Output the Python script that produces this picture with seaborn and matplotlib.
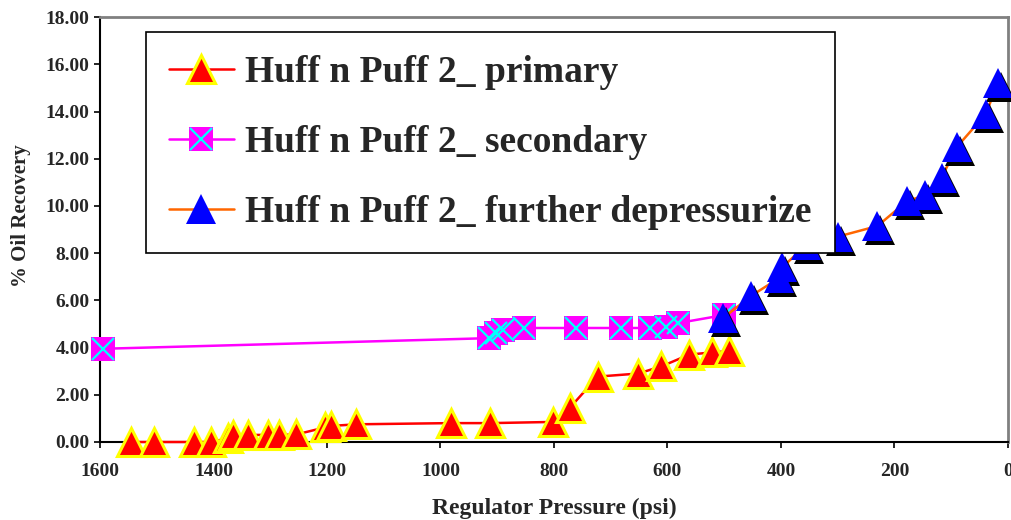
import numpy as np
import pandas as pd
import matplotlib
matplotlib.use('Agg')
import matplotlib.pyplot as plt
import seaborn as sns
from matplotlib.lines import Line2D
from matplotlib.legend_handler import HandlerTuple
from matplotlib.transforms import offset_copy
from matplotlib.ticker import FormatStrFormatter, MultipleLocator

# values
primary_psi = [1545, 1505, 1435, 1405, 1375, 1366, 1339, 1304, 1284, 1254, 1203, 1193,
               1148, 982, 912, 802, 772, 723, 652, 611, 562, 521, 491]
primary_rec = [0.0, 0.0, 0.0, 0.0, 0.15, 0.28, 0.3, 0.3, 0.3, 0.32, 0.62, 0.68,
               0.75, 0.8, 0.8, 0.85, 1.45, 2.77, 2.9, 3.2, 3.7, 3.8, 3.85]

secondary_psi = [1594, 914, 902, 890, 852, 762, 682, 631, 602, 581, 500]
secondary_rec = [3.95, 4.4, 4.6, 4.75, 4.83, 4.83, 4.83, 4.83, 4.87, 5.04, 5.38]

further_psi = [502, 452, 403, 398, 355, 300, 230, 178, 147, 117, 90, 39, 18]
further_rec = [5.25, 6.2, 6.95, 7.4, 8.35, 8.7, 9.15, 10.2, 10.45, 11.2, 12.5, 13.9, 15.2]

labels = ['Huff n Puff 2_ primary', 'Huff n Puff 2_ secondary',
          'Huff n Puff 2_ further depressurize']

df_p = pd.DataFrame({'psi': primary_psi, 'rec': primary_rec})
df_s = pd.DataFrame({'psi': secondary_psi, 'rec': secondary_rec})
df_f = pd.DataFrame({'psi': further_psi, 'rec': further_rec})

sns.set_style('ticks')
plt.rcParams['font.family'] = ['Liberation Serif', 'DejaVu Serif']
plt.rcParams['font.weight'] = 'bold'

fig = plt.figure(figsize=(10.12, 5.2), dpi=100)
ax = fig.add_axes([0.0988, 0.15, 0.8972, 0.817])

tri_size = 20.5
sq_size = 17
blue_size = 21.5

# primary
sns.lineplot(data=df_p, x='psi', y='rec', ax=ax, sort=False, estimator=None,
             color='#FF0000', linewidth=1.8, marker='^', markersize=tri_size,
             markerfacecolor='#FF0000', markeredgecolor='#FFFF00',
             markeredgewidth=2.2, clip_on=False, zorder=3)

# secondary: magenta squares with cyan cross
sns.lineplot(data=df_s, x='psi', y='rec', ax=ax, sort=False, estimator=None,
             color='#FF00FF', linewidth=1.8, marker='s', markersize=sq_size,
             markerfacecolor='#FF00FF', markeredgecolor='#FF00FF',
             markeredgewidth=0, clip_on=False, zorder=4)
ax.plot(secondary_psi, secondary_rec, ls='none', marker='x', markersize=sq_size - 1,
        markeredgecolor='#00FFFF', markeredgewidth=1.6, clip_on=False, zorder=4)

# further depressurize: blue triangles with black shadow
shadow = offset_copy(ax.transData, fig=fig, x=3, y=-4, units='dots')
sns.lineplot(data=df_f, x='psi', y='rec', ax=ax, sort=False, estimator=None,
             color='#FF6600', linewidth=1.8, clip_on=False, zorder=5)
ax.plot(further_psi, further_rec, ls='none', marker='^', markersize=blue_size,
        markerfacecolor='black', markeredgewidth=0, transform=shadow,
        clip_on=False, zorder=5)
ax.plot(further_psi, further_rec, ls='none', marker='^', markersize=blue_size,
        markerfacecolor='#0000FF', markeredgewidth=0, clip_on=False, zorder=6)

ax.set_xlim(1600, 0)
ax.set_ylim(0, 18)
ax.xaxis.set_major_locator(MultipleLocator(200))
ax.yaxis.set_major_locator(MultipleLocator(2))
ax.yaxis.set_major_formatter(FormatStrFormatter('%.2f'))
ax.tick_params(axis='both', labelsize=14, length=4, width=1.2, direction='out',
               color='black')
ax.tick_params(axis='x', pad=11)
for lab in ax.get_xticklabels() + ax.get_yticklabels():
    lab.set_fontweight('bold')

ax.set_xlabel('Regulator Pressure (psi)', fontsize=17, fontweight='bold', labelpad=13)
ax.set_ylabel('% Oil Recovery', fontsize=15, fontweight='bold')
ax.yaxis.set_label_coords(-0.076, 0.534)

for side in ['left', 'bottom']:
    ax.spines[side].set_color('black')
    ax.spines[side].set_linewidth(1.5)
for side in ['top', 'right']:
    ax.spines[side].set_visible(True)
    ax.spines[side].set_color('#808080')
    ax.spines[side].set_linewidth(2)

# legend
h_p = Line2D([], [], color='#FF0000', lw=1.8, marker='^', markersize=tri_size,
             markerfacecolor='#FF0000', markeredgecolor='#FFFF00', markeredgewidth=2.2)
h_s1 = Line2D([], [], color='#FF00FF', lw=1.8, marker='s', markersize=sq_size,
              markerfacecolor='#FF00FF', markeredgewidth=0)
h_s2 = Line2D([], [], ls='none', marker='x', markersize=sq_size - 1,
              markeredgecolor='#00FFFF', markeredgewidth=1.6)
h_f = Line2D([], [], color='#FF6600', lw=1.8, marker='^', markersize=blue_size,
             markerfacecolor='#0000FF', markeredgewidth=0)
leg = ax.legend([h_p, (h_s1, h_s2), h_f], labels,
                handler_map={tuple: HandlerTuple(ndivide=1, pad=0)},
                loc='upper left', bbox_to_anchor=(146 / 1012, 1 - 32 / 520),
                bbox_transform=fig.transFigure, borderaxespad=0,
                prop={'family': 'Liberation Serif', 'weight': 'bold', 'size': 27},
                handlelength=1.72, handletextpad=0.3, labelspacing=0.93,
                borderpad=0.62, frameon=True, fancybox=False, framealpha=1)
leg.get_frame().set_edgecolor('black')
leg.get_frame().set_linewidth(1.2)
leg.set_zorder(10)

fig.savefig('out.png', dpi=100)
